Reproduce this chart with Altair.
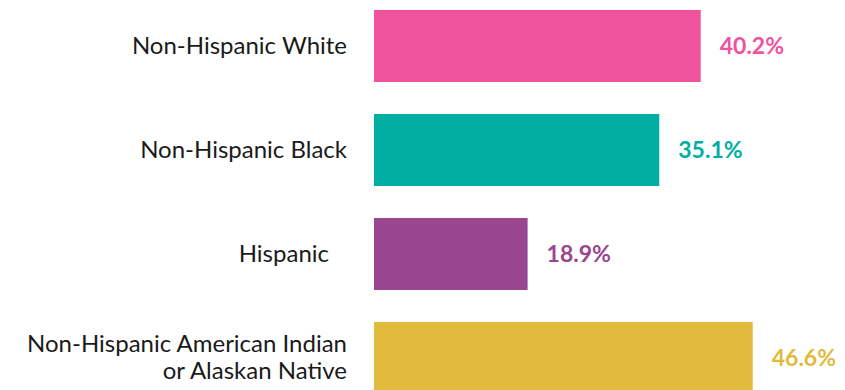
import altair as alt
import pandas as pd

categories = ["White", "Black", "Hispanic", "AIAN"]
labels = [
    "Non-Hispanic White",
    "Non-Hispanic Black",
    "Hispanic\u2800",
    "Non-Hispanic American Indian\nor Alaskan Native",
]
multiline = [False, False, False, True]
values = [40.2, 35.1, 18.9, 46.6]
value_labels = ["40.2%", "35.1%", "18.9%", "46.6%"]
colors = ["#EF539E", "#00AFA1", "#9A4590", "#E1BA3D"]

df = pd.DataFrame({
    "category": categories,
    "label": labels,
    "multi": multiline,
    "value": values,
    "value_text": value_labels,
})

y_enc = alt.Y("category:N", sort=categories,
              scale=alt.Scale(paddingInner=0.3077, paddingOuter=0.0192),
              axis=None)
x_scale = alt.Scale(domain=[0, 55])
color_enc = alt.Color("category:N", scale=alt.Scale(domain=categories, range=colors), legend=None)

base = alt.Chart(df).encode(y=y_enc)

bars = base.mark_bar().encode(
    x=alt.X("value:Q", scale=x_scale, axis=None),
    color=color_enc,
)

vals = base.mark_text(align="left", baseline="middle", dx=19, dy=1, font="Lato",
                      fontSize=23, fontWeight="bold").encode(
    x=alt.X("value:Q", scale=x_scale),
    text="value_text:N",
    color=color_enc,
)

label_style = dict(align="right", baseline="middle", dx=-27, font="Lato",
                   fontSize=24, lineBreak="\n", lineHeight=27, color="#1a1a1a")

names_single = base.transform_filter("!datum.multi").mark_text(
    dy=1, **label_style
).encode(x=alt.value(0), text="label:N")

names_multi = base.transform_filter("datum.multi").mark_text(
    dy=-13, **label_style
).encode(x=alt.value(0), text="label:N")

chart = alt.layer(bars, vals, names_single, names_multi).properties(
    width=447,
    height=388,
    autosize=alt.AutoSizeParams(type="none"),
    padding={"left": 366, "top": 0, "right": 14, "bottom": 0},
).configure_view(stroke=None)

chart.save("out.html", embed_options={"renderer": "svg", "actions": False})
